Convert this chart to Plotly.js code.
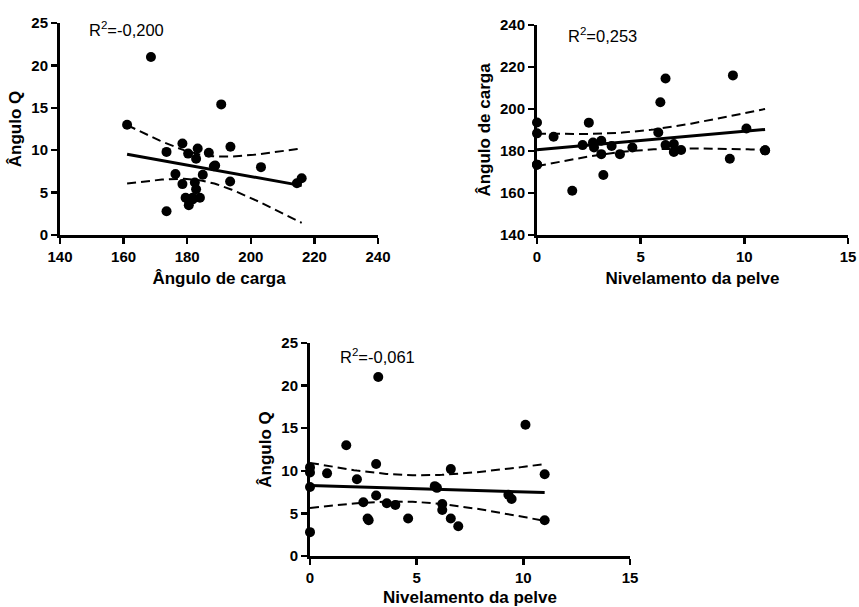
<!DOCTYPE html>
<html>
<head>
<meta charset="utf-8">
<script src="https://cdn.plot.ly/plotly-3.0.1.min.js"></script>
<style>
html,body{margin:0;padding:0;background:#fff;}
#chart{width:859px;height:607px;}
</style>
</head>
<body>
<div id="chart"></div>
<script>
// Subject data (28 subjects)
var nivelamentoPelve = [0, 0, 0, 0, 0.8, 1.7, 2.2, 2.5, 2.7, 2.75, 3.1, 3.1, 3.2, 3.6, 4.0, 4.6, 5.85, 5.95, 6.2, 6.2, 6.6, 6.6, 6.95, 9.3, 9.45, 10.1, 11.0, 11.0];
var anguloCarga      = [193.6, 188.4, 173.5, 173.5, 186.8, 161.1, 182.8, 193.5, 184.0, 181.7, 184.9, 178.5, 168.6, 182.4, 178.5, 181.7, 188.8, 203.2, 214.5, 182.8, 183.3, 179.5, 180.5, 176.3, 216.0, 190.7, 180.3, 180.3];
var anguloQ          = [10.4, 8.1, 9.8, 2.8, 9.7, 13.0, 9.0, 6.3, 4.4, 4.2, 7.1, 10.8, 21.0, 6.2, 6.0, 4.4, 8.2, 8.0, 6.1, 5.4, 10.2, 4.4, 3.5, 7.2, 6.7, 15.4, 9.6, 4.2];

var r2Labels = ["R<sup>2</sup>=-0,200", "R<sup>2</sup>=0,253", "R<sup>2</sup>=-0,061"];
var xTitles = ["Ângulo de carga", "Nivelamento da pelve", "Nivelamento da pelve"];
var yTitles = ["Ângulo Q", "Ângulo de carga", "Ângulo Q"];
var tickValsCarga = [140, 160, 180, 200, 220, 240];
var tickValsQ = [0, 5, 10, 15, 20, 25];
var tickValsPelve = [0, 5, 10, 15];

function tQuant(df){
  var z = 1.959964;
  var g1 = (Math.pow(z,3)+z)/4;
  var g2 = (5*Math.pow(z,5)+16*Math.pow(z,3)+3*z)/96;
  var g3 = (3*Math.pow(z,7)+19*Math.pow(z,5)+17*Math.pow(z,3)-15*z)/384;
  return z + g1/df + g2/(df*df) + g3/(df*df*df);
}

// Linear regression with 95% confidence band of the mean
function regression(x, y){
  var n = x.length, sx=0, sy=0;
  for (var i=0;i<n;i++){sx+=x[i]; sy+=y[i];}
  var xb=sx/n, yb=sy/n, sxx=0, sxy=0;
  for (i=0;i<n;i++){sxx+=(x[i]-xb)*(x[i]-xb); sxy+=(x[i]-xb)*(y[i]-yb);}
  var b=sxy/sxx, a=yb-b*xb, sse=0;
  for (i=0;i<n;i++){var e=y[i]-(a+b*x[i]); sse+=e*e;}
  var s=Math.sqrt(sse/(n-2)), t=tQuant(n-2);
  var xmin=Math.min.apply(null,x), xmax=Math.max.apply(null,x);
  var xs=[], fit=[], lo=[], hi=[];
  var steps=80;
  for (i=0;i<=steps;i++){
    var xv=xmin+(xmax-xmin)*i/steps;
    var yv=a+b*xv;
    var h=t*s*Math.sqrt(1/n+(xv-xb)*(xv-xb)/sxx);
    xs.push(xv); fit.push(yv); lo.push(yv-h); hi.push(yv+h);
  }
  return {xs:xs, fit:fit, lo:lo, hi:hi};
}

var panels = [
  {x: anguloCarga, y: anguloQ, xa:'x', ya:'y'},
  {x: nivelamentoPelve, y: anguloCarga, xa:'x2', ya:'y2'},
  {x: nivelamentoPelve, y: anguloQ, xa:'x3', ya:'y3'}
];

var traces = [];
panels.forEach(function(p){
  var r = regression(p.x, p.y);
  traces.push({x:r.xs, y:r.hi, xaxis:p.xa, yaxis:p.ya, mode:'lines', line:{color:'#000', width:2, dash:'9px,5px'}, hoverinfo:'skip', showlegend:false});
  traces.push({x:r.xs, y:r.lo, xaxis:p.xa, yaxis:p.ya, mode:'lines', line:{color:'#000', width:2, dash:'9px,5px'}, hoverinfo:'skip', showlegend:false});
  traces.push({x:r.xs, y:r.fit, xaxis:p.xa, yaxis:p.ya, mode:'lines', line:{color:'#000', width:3}, hoverinfo:'skip', showlegend:false});
  traces.push({x:p.x, y:p.y, xaxis:p.xa, yaxis:p.ya, mode:'markers', marker:{color:'#000', size:10}, cliponaxis:false, showlegend:false});
});

var W=859, H=607;
function dx(a,b){return [a/W, b/W];}
function dy(top,bot){return [1-bot/H, 1-top/H];}

var FAM = '"Liberation Sans", Arial, sans-serif';
var tickFont = {family:FAM, size:15, color:'#000', weight:'bold'};
var titleFont = {family:FAM, size:17, color:'#000', weight:'bold'};

function axis(dom, range, vals, title, anchor, standoff){
  return {domain:dom, range:range, anchor:anchor,
    tickmode:'array', tickvals:vals, ticktext:vals.map(String),
    showline:true, linecolor:'#000', linewidth:3, ticks:'outside', ticklen:6, tickwidth:2.5, tickcolor:'#000',
    showgrid:false, zeroline:false, tickfont:tickFont, fixedrange:true,
    title:{text:title, font:titleFont, standoff:standoff}};
}

var layout = {
  width:W, height:H, margin:{l:0,r:0,t:0,b:0}, paper_bgcolor:'#fff', plot_bgcolor:'#fff',
  font:{family:FAM, size:15, color:'#000', weight:'bold'},
  showlegend:false,
  xaxis:  axis(dx(60,378),  [140,240], tickValsCarga, xTitles[0], 'y', 9),
  yaxis:  axis(dy(23,235),  [0,25],    tickValsQ,     yTitles[0], 'x', 6),
  xaxis2: axis(dx(537,848), [0,15],    tickValsPelve, xTitles[1], 'y2', 9),
  yaxis2: axis(dy(25,235),  [140,240], tickValsCarga, yTitles[1], 'x2', 6),
  xaxis3: axis(dx(310,630), [0,15],    tickValsPelve, xTitles[2], 'y3', 20),
  yaxis3: axis(dy(343,556), [0,25],    tickValsQ,     yTitles[2], 'x3', 6),
  annotations: [
    {xref:'x', yref:'y', x:148.6, y:24.3, text:r2Labels[0], showarrow:false, xanchor:'left', yanchor:'middle', font:{family:FAM, size:16.5, color:'#000', weight:'normal'}},
    {xref:'x2', yref:'y2', x:1.4, y:235, text:r2Labels[1], showarrow:false, xanchor:'left', yanchor:'middle', font:{family:FAM, size:16.5, color:'#000', weight:'normal'}},
    {xref:'x3', yref:'y3', x:1.3, y:23.5, text:r2Labels[2], showarrow:false, xanchor:'left', yanchor:'middle', font:{family:FAM, size:16.5, color:'#000', weight:'normal'}}
  ]
};

Plotly.newPlot('chart', traces, layout, {staticPlot:true, displayModeBar:false});
</script>
</body>
</html>
